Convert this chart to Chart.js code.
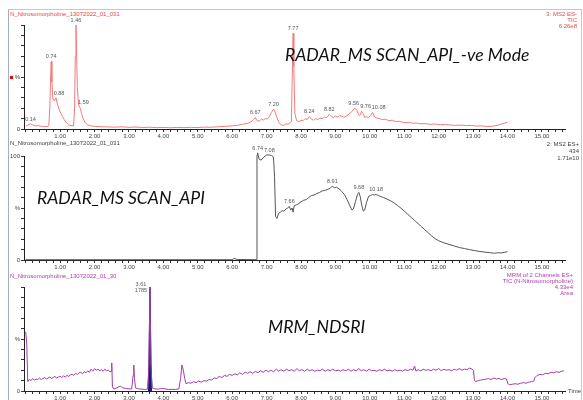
<!DOCTYPE html>
<html>
<head>
<meta charset="utf-8">
<script src="https://cdn.jsdelivr.net/npm/chart.js@4.4.0/dist/chart.umd.min.js"></script>
<style>
  body { margin: 0; width: 583px; height: 400px; overflow: hidden; position: relative; background: #fff; font-family: "Liberation Sans", Arial, sans-serif; }
  canvas { position: absolute; left: 0; }
  .t { position: absolute; white-space: nowrap; font-size: 6px; line-height: 6px; }
  .r { text-align: right; }
  .big { position: absolute; white-space: nowrap; font-family: Lato, "Open Sans", sans-serif; font-style: italic; font-size: 17.6px; color: #111; }
</style>
</head>
<body>
<div style="position:absolute;left:8px;top:9px;width:572px;height:400px;border-left:1px solid #9fb0c4;border-top:1px solid #c8c8c8;border-right:1px solid #c8c8c8;"></div>

<canvas id="c1" width="583" height="125" style="top:18px"></canvas>
<canvas id="c2" width="583" height="128" style="top:146px"></canvas>
<canvas id="c3" width="583" height="125" style="top:280px"></canvas>

<!-- panel titles -->
<div class="t" style="left:10px;top:11px;color:#e84848">N_Nitrosomorpholine_13072022_01_031</div>
<div class="t" style="left:10px;top:140px;color:#444">N_Nitrosomorpholine_13072022_01_031</div>
<div class="t" style="left:10px;top:273px;color:#b040b0">N_Nitrosomorpholine_13072022_01_30</div>

<!-- right side labels -->
<div class="t r" style="right:6px;top:11px;color:#e84848">3: MS2 ES-<br>TIC<br>6.26e8</div>
<div class="t r" style="right:4px;top:141px;color:#444;line-height:7px">2: MS2 ES+<br>434<br>1.71e10</div>
<div class="t r" style="right:10px;top:272px;color:#b040b0">MRM of 2 Channels ES+<br>TIC (N-Nitrosomorpholine)<br>4.33e4<br>Area</div>
<div class="t" style="left:568px;top:388px;color:#444">Time</div>
<div style="position:absolute;left:10px;top:76px;width:3px;height:3px;background:#e00"></div>

<!-- annotations -->
<div class="big" style="left:285px;top:44px">RADAR_MS SCAN_API_-ve Mode</div>
<div class="big" style="left:37px;top:187px">RADAR_MS SCAN_API</div>
<div class="big" style="left:268px;top:316px">MRM_NDSRI</div>

<script>
// 3: MS2 ES- (TIC), % vs time (min)
const negTime = [0.00,0.05,0.10,0.14,0.20,0.28,0.36,0.45,0.55,0.62,0.67,0.70,0.72,0.74,0.76,0.79,0.83,0.88,0.92,0.97,
  1.02,1.07,1.12,1.18,1.25,1.32,1.39,1.42,1.44,1.46,1.48,1.50,1.53,1.56,1.59,1.62,1.67,1.73,1.80,1.90,
  2.00,2.2,2.4,2.6,2.8,3.0,3.2,3.4,3.6,3.8,4.0,4.2,4.4,4.6,4.8,5.0,5.2,5.4,5.6,5.8,
  6.0,6.15,6.3,6.45,6.55,6.62,6.67,6.72,6.78,6.85,6.90,6.96,7.02,7.08,7.14,7.20,7.25,7.30,7.36,7.42,
  7.50,7.56,7.62,7.68,7.72,7.75,7.77,7.79,7.82,7.87,7.94,8.00,8.06,8.12,8.18,8.24,8.30,8.36,8.42,8.48,
  8.55,8.62,8.68,8.75,8.82,8.88,8.94,9.00,9.06,9.12,9.18,9.24,9.30,9.36,9.42,9.48,9.56,9.62,9.67,9.71,
  9.76,9.80,9.85,9.90,9.96,10.02,10.08,10.13,10.20,10.28,10.36,10.45,10.55,10.65,10.75,10.85,10.95,11.05,11.15,11.25,
  11.35,11.45,11.6,11.75,11.9,12.05,12.2,12.35,12.5,12.65,12.8,12.95,13.1,13.25,13.4,13.55,13.7,13.8,13.9,14.0];
const negPct = [3,3.5,4.5,5,4,3,3.2,2.6,2.4,2.2,3,20,45,65,45,29,27,30,24,19,
  15,12,9,6,4,3.2,3,20,70,100,70,40,25,21,20,15,10,6,4,3,
  2.5,2.2,2,1.8,2.1,1.6,1.9,1.4,1.7,1.3,1.5,1.2,1.5,1.3,1.6,1.4,1.8,1.7,2.2,2.5,
  3,3.5,4.5,5.5,7,9,11,8,7.5,9.5,8.5,10,9.5,12,16,19,16,11,6,4,
  3.5,5,4.5,6,7,60,92,60,15,8,7,8.5,8,10,9,12,9.5,8.5,10,9,
  10.5,10,11.5,11,14,12,11,12.5,11.5,13,12.5,11.5,12,13.5,15,17,20,18,14,13,
  17,15,11,12,11,13,16,12,10.5,10,9,9.5,8,8.5,7,7.5,6.5,6,6.5,5.5,
  5.8,5,5.2,4.5,4.8,4,4.3,3.8,3.5,3.8,3.2,3.4,2.8,3,2.4,2.6,3.5,4.5,5.5,6.5];
const negPeaks = [0.14,0.74,0.88,1.46,1.59,6.67,7.20,7.77,8.24,8.82,9.56,9.76,10.08];

// 2: MS2 ES+ 434
const posTime = [0.00,6.00,6.05,6.15,6.70,6.72,6.74,6.78,6.84,6.92,7.00,7.08,7.14,7.20,7.23,7.26,7.30,7.35,7.40,7.45,
  7.50,7.56,7.61,7.66,7.70,7.74,7.77,7.80,7.86,7.92,8.00,8.08,8.15,8.22,8.30,8.38,8.46,8.54,8.62,8.70,
  8.78,8.85,8.91,8.97,9.03,9.10,9.18,9.26,9.34,9.42,9.48,9.52,9.58,9.64,9.68,9.72,9.77,9.81,9.85,9.90,
  9.96,10.02,10.08,10.13,10.18,10.25,10.32,10.40,10.50,10.60,10.70,10.80,10.90,11.00,11.10,11.20,11.30,11.40,11.50,11.60,
  11.70,11.80,11.90,12.00,12.15,12.30,12.45,12.60,12.75,12.90,13.05,13.20,13.35,13.50,13.62,13.72,13.82,13.92,14.00];
const posPct = [0.3,0.3,1.5,0.5,0.3,100,103,97,96,99,101,101,100.5,99,80,42,40,45,46,47.5,
  47,49,50,51.5,48,50,46,52,53,54,56,57.5,58,60,62,62.5,64,65,66.5,67,
  68,69,71,69.5,70,68.5,66,63,58,52,48,49,56,63,65,61,52,47,48,55,
  61,62,63,62.5,63,62,61,60,58.5,57,55,52.5,50,47,44,41,38,35,32,29,
  26,23,20.5,18.5,16.5,15,13.5,12,11,10,9,8.2,7.5,7,6.5,7,6.8,7.5,8];
const posPeaks = [6.74,7.08,7.66,8.91,9.68,10.18];

// MRM of 2 channels ES+, TIC (N-Nitrosomorpholine)
const mrmTime = [0.00,0.03,0.06,0.10,0.15,0.20,0.25,0.30,0.35,0.40,0.45,0.50,0.55,0.60,0.65,0.70,0.75,0.80,0.85,0.90,
  0.95,1.00,1.05,1.10,1.15,1.20,1.25,1.30,1.35,1.40,1.45,1.50,1.55,1.60,1.65,1.70,1.75,1.80,1.85,1.90,
  1.95,2.00,2.05,2.10,2.15,2.20,2.25,2.30,2.35,2.40,2.45,2.49,2.50,2.52,2.56,2.62,2.70,2.76,2.82,2.90,
  3.00,3.08,3.12,3.14,3.16,3.19,3.28,3.38,3.48,3.55,3.58,3.61,3.64,3.67,3.75,3.85,3.95,4.05,4.15,4.25,
  4.35,4.45,4.50,4.54,4.58,4.62,4.66,4.72,4.80,4.88,4.95,5.02,5.10,5.18,5.25,5.32,5.40,5.48,5.55,5.62,
  5.70,5.78,5.85,5.92,6.00,6.08,6.15,6.22,6.30,6.38,6.45,6.52,6.60,6.68,6.75,6.82,6.90,6.98,7.05,7.12,
  7.20,7.28,7.35,7.42,7.50,7.58,7.65,7.72,7.80,7.88,7.95,8.02,8.10,8.18,8.25,8.32,8.40,8.48,8.55,8.62,
  8.70,8.78,8.85,8.92,9.00,9.08,9.15,9.22,9.30,9.38,9.45,9.52,9.60,9.68,9.75,9.82,9.90,9.98,10.05,10.12,
  10.20,10.28,10.35,10.42,10.50,10.58,10.65,10.72,10.80,10.88,10.95,11.02,11.10,11.18,11.25,11.30,11.34,11.40,11.48,11.55,
  11.62,11.70,11.78,11.85,11.92,12.00,12.08,12.15,12.22,12.30,12.38,12.45,12.52,12.60,12.68,12.75,12.82,12.90,12.97,13.01,
  13.04,13.08,13.15,13.22,13.30,13.38,13.45,13.52,13.60,13.68,13.75,13.82,13.90,13.97,14.01,14.06,14.14,14.22,14.30,14.38,
  14.46,14.54,14.62,14.70,14.76,14.80,14.86,14.94,15.02,15.10,15.18,15.26,15.34,15.42,15.50,15.58,15.64];
const mrmPct = [57,45,9,11,10,12,10.5,11.5,11,12.5,11,12,13,11.5,12.5,13.5,12,13,14,12.5,
  13.5,14,13,14.5,13.5,15,14,15.5,16,15,17,16,17.5,18,16.5,18.5,17.5,19.5,18,21,
  19,21.5,20,21,19.5,20.5,19,21,19.5,20,18.5,19,27,4,2,2.5,4,4.5,3,2.5,
  2,2,15,25,12,3,2,1.8,1.5,2,25,100,25,3,2,1.8,2.5,2,1.5,1.6,
  1.5,2,12,25,20,12,7,8,7.5,9,8,9.5,8.5,10,9.5,11,10.5,12.5,12,14,
  13,15,14,16,15,16.5,15.5,17.5,16,18,17,18.5,17,19,17.5,19.5,18,20,18.5,20,
  18.5,21,19,20.5,19,21,19.5,20.5,19,21.5,19.5,20.5,19,21,19.5,20.5,19,20,19.5,21,
  19,20.5,19.5,21,19.5,20,19,20.5,19.5,21,19,20.5,19.5,21.5,19.5,20.5,19,21,19.5,20,
  19,20.5,19.5,21,19.5,20,19,20.5,19.5,20,19,20.5,19.5,21,20,24,19,20.5,19.5,21,
  20,20.5,19.5,21,20,21.5,19.5,21,20,20.5,19.5,21,20,21.5,20,21,20.5,22,21,20,
  10,9,10,10.5,11,11.5,12,11,12.5,11.5,12,11,12,11.5,7,6,6.5,7,6.5,7.5,
  8,7.5,8.5,9,9.5,13,15,16,15.5,17,16.5,18,17.5,18.5,18,19,19.5];
// integrated peak (shaded) and its label
const areaTime = [3.55,3.58,3.61,3.64,3.67];
const areaPct = [2,25,100,25,3];
const mrmPeaks = [3.61];
const mrmPeakArea = '1785';

const X_MIN = -0.05, X_MAX = 15.67;
const tickFont = { size: 6, family: '"Liberation Sans", Arial, sans-serif' };

function pts(t, v) { return t.map((x, i) => ({ x: x, y: v[i] })); }

const peakLabels = {
  id: 'peakLabels',
  afterDatasetsDraw(chart, args, opts) {
    const items = opts.items || [];
    const data = chart.data.datasets[0].data;
    const ctx = chart.ctx;
    ctx.save();
    ctx.font = '5.5px "Liberation Sans", Arial, sans-serif';
    ctx.fillStyle = '#555';
    ctx.textAlign = 'center';
    ctx.textBaseline = 'bottom';
    items.forEach(it => {
      let best = null;
      data.forEach(p => {
        if (Math.abs(p.x - it.t) <= 0.04 && (!best || p.y > best.y)) best = p;
      });
      if (!best) return;
      const px = chart.scales.x.getPixelForValue(it.t) + (it.dx || 0);
      let py = chart.scales.y.getPixelForValue(best.y) - 2 + (it.dy || 0);
      const lines = it.text.split('\n');
      for (let i = lines.length - 1; i >= 0; i--) {
        ctx.fillText(lines[i], px, py);
        py -= 6;
      }
    });
    ctx.restore();
  }
};

function makeScales(topLabel) {
  return {
    x: {
      type: 'linear', min: X_MIN, max: X_MAX,
      afterFit: s => { s.height = 14; },
      grid: { drawOnChartArea: false, tickLength: 3, color: '#333' },
      border: { color: '#222', width: 1 },
      ticks: {
        stepSize: 0.2, autoSkip: false, maxRotation: 0, includeBounds: false,
        padding: 1, color: '#444', font: tickFont,
        callback: v => (v >= 0.99 && Math.abs(v - Math.round(v)) < 1e-6) ? Math.round(v).toFixed(2) : ''
      }
    },
    y: {
      min: 0, max: 100,
      afterFit: s => { s.width = 24; },
      grid: { drawOnChartArea: false, tickLength: 3, color: '#333' },
      border: { color: '#222', width: 1 },
      ticks: {
        stepSize: 10, autoSkip: false, padding: 1, color: '#444', font: tickFont,
        callback: v => v === 0 ? '0' : v === 50 ? '%' : (v === 100 && topLabel ? '100' : '')
      }
    }
  };
}

function panel(id, datasets, peaks, padTop, topLabel) {
  new Chart(document.getElementById(id), {
    type: 'line',
    data: { datasets: datasets },
    options: {
      responsive: false, animation: false,
      layout: { padding: { top: padTop, right: 18, left: 0, bottom: 0 } },
      parsing: false,
      elements: { point: { radius: 0 }, line: { tension: 0, borderWidth: 1 } },
      plugins: { legend: { display: false }, tooltip: { enabled: false }, peakLabels: { items: peaks } },
      scales: makeScales(topLabel)
    },
    plugins: [peakLabels]
  });
}

// small horizontal nudges so neighbouring peak labels do not overlap
const negShift = { 0.88: 3, 1.59: 3, 9.56: -1, 9.76: 4, 10.08: 6 };

panel('c1', [
  { data: pts(negTime, negPct), borderColor: '#f47a7a', clip: false }
], negPeaks.map(t => ({ t: t, text: t.toFixed(2), dx: negShift[t] || 0 })), 7, false);

panel('c2', [
  { data: pts(posTime, posPct), borderColor: '#555', clip: false }
], posPeaks.map(t => ({ t: t, text: t.toFixed(2) })), 10, true);

panel('c3', [
  { data: pts(mrmTime, mrmPct), borderColor: '#a03ca8', clip: false },
  { data: pts(areaTime, areaPct), borderColor: '#1c1c78', backgroundColor: '#1c1c78', fill: 'origin' }
], mrmPeaks.map(t => ({ t: t, text: t.toFixed(2) + '\n' + mrmPeakArea, dx: -9, dy: 8 })), 7, false);
</script>
</body>
</html>
